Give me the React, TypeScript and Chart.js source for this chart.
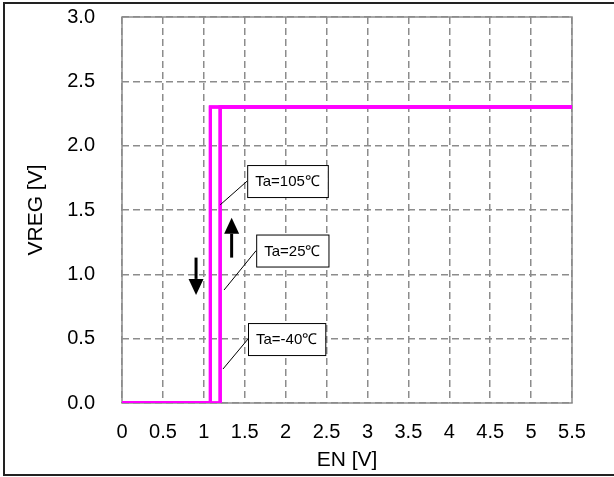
import React, { useEffect, useRef } from "react";
import { Chart, registerables } from "chart.js";

Chart.register(...registerables);

// ---- data ----
const temps = ["Ta=105℃", "Ta=25℃", "Ta=-40℃"];
const enRiseThreshold = [1.2, 1.2, 1.2]; // EN [V] where VREG turns on
const enFallThreshold = [1.08, 1.08, 1.08]; // EN [V] where VREG turns off
const vregOn = [2.3, 2.3, 2.3]; // VREG [V] when on
const vregOff = [0, 0, 0];
const enMin = 0;
const enMax = 5.5;
const xTicks = [0, 0.5, 1, 1.5, 2, 2.5, 3, 3.5, 4, 4.5, 5, 5.5];
const yTicks = [0, 0.5, 1, 1.5, 2, 2.5, 3];

// ---- annotation layout (data coordinates) ----
const labelBoxLeft = [1.53, 1.64, 1.54];
const labelBoxMidY = [1.725, 1.185, 0.497];
const leaderEndX = [1.2, 1.247, 1.234];
const leaderEndY = [1.54, 0.878, 0.264];
const arrowUp = { x: 1.34, from: 1.13, to: 1.44 };
const arrowDown = { x: 0.905, from: 1.13, to: 0.84 };

const FONT = "'Liberation Sans', Arial, Helvetica, sans-serif";
const MAGENTA = "#FF00FF";
const GRID = "#8c8c8c";

export default function App() {
  const ref = useRef<HTMLCanvasElement | null>(null);

  useEffect(() => {
    if (!ref.current) return;

    const datasets: any[] = [];
    temps.forEach((t, i) => {
      datasets.push({
        label: t + " rise",
        data: [
          { x: enMin, y: vregOff[i] },
          { x: enRiseThreshold[i], y: vregOff[i] },
          { x: enRiseThreshold[i], y: vregOn[i] },
          { x: enMax, y: vregOn[i] },
        ],
      });
      datasets.push({
        label: t + " fall",
        data: [
          { x: enMax, y: vregOn[i] },
          { x: enFallThreshold[i], y: vregOn[i] },
          { x: enFallThreshold[i], y: vregOff[i] },
          { x: enMin, y: vregOff[i] },
        ],
      });
    });
    datasets.forEach((d) => {
      d.showLine = true;
      d.borderColor = MAGENTA;
      d.backgroundColor = MAGENTA;
      d.borderWidth = 3;
      d.pointRadius = 0;
      d.tension = 0;
      d.fill = false;
    });

    const framePlugin = {
      id: "frame",
      beforeDraw(chart: any) {
        const ctx = chart.ctx;
        ctx.save();
        ctx.fillStyle = "#fff";
        ctx.fillRect(0, 0, chart.width, chart.height);
        ctx.strokeStyle = "#222";
        ctx.lineWidth = 2;
        ctx.strokeRect(4, 3, chart.width + 10, 472);
        ctx.restore();
      },
      beforeDatasetsDraw(chart: any) {
        const { ctx, chartArea: a } = chart;
        ctx.save();
        ctx.strokeStyle = GRID;
        ctx.lineWidth = 1.5;
        ctx.setLineDash([]);
        ctx.strokeRect(a.left, a.top, a.right - a.left, a.bottom - a.top);
        ctx.restore();
      },
    };

    const annotationPlugin = {
      id: "annot",
      afterDatasetsDraw(chart: any) {
        const { ctx } = chart;
        const xs = chart.scales.x;
        const ys = chart.scales.y;
        ctx.save();
        ctx.font = `15px ${FONT}`;
        ctx.textBaseline = "middle";
        ctx.textAlign = "left";
        temps.forEach((t, i) => {
          const bx = xs.getPixelForValue(labelBoxLeft[i]);
          const by = ys.getPixelForValue(labelBoxMidY[i]);
          const tw = ctx.measureText(t).width;
          const w = tw + 16;
          const h = 32;
          ctx.strokeStyle = "#000";
          ctx.lineWidth = 1;
          ctx.beginPath();
          ctx.moveTo(bx, by);
          ctx.lineTo(xs.getPixelForValue(leaderEndX[i]), ys.getPixelForValue(leaderEndY[i]));
          ctx.stroke();
          ctx.fillStyle = "#fff";
          ctx.fillRect(bx, by - h / 2, w, h);
          ctx.strokeRect(bx + 0.5, by - h / 2 + 0.5, w, h);
          ctx.fillStyle = "#000";
          ctx.fillText(t, bx + 8, by + 1);
        });
        const drawArrow = (a: { x: number; from: number; to: number }) => {
          const x = xs.getPixelForValue(a.x);
          const y0 = ys.getPixelForValue(a.from);
          const y1 = ys.getPixelForValue(a.to);
          const dir = y1 > y0 ? 1 : -1;
          const headH = 16;
          const headW = 7.5;
          ctx.strokeStyle = "#000";
          ctx.fillStyle = "#000";
          ctx.lineWidth = 3;
          ctx.beginPath();
          ctx.moveTo(x, y0);
          ctx.lineTo(x, y1 - dir * headH);
          ctx.stroke();
          ctx.beginPath();
          ctx.moveTo(x, y1);
          ctx.lineTo(x - headW, y1 - dir * headH);
          ctx.lineTo(x + headW, y1 - dir * headH);
          ctx.closePath();
          ctx.fill();
        };
        drawArrow(arrowUp);
        drawArrow(arrowDown);
        ctx.restore();
      },
    };

    const chart = new Chart(ref.current, {
      type: "scatter",
      data: { datasets },
      options: {
        animation: false,
        responsive: false,
        events: [],
        layout: { padding: { left: 0, right: 42, top: 17, bottom: 0 } },
        plugins: {
          legend: { display: false },
          tooltip: { enabled: false },
        },
        scales: {
          x: {
            type: "linear",
            min: enMin,
            max: enMax,
            afterBuildTicks: (s: any) => {
              s.ticks = xTicks.map((v) => ({ value: v }));
            },
            afterFit: (s: any) => {
              s.height = 74;
              s.paddingLeft = 0;
              s.paddingRight = 0;
            },
            ticks: {
              color: "#000",
              font: { family: FONT, size: 20 },
              padding: 17,
              maxRotation: 0,
              autoSkip: false,
              callback: (v: any) => String(Math.round(Number(v) * 10) / 10),
            },
            grid: { color: GRID, lineWidth: 1.5, drawTicks: false },
            border: { display: false, dash: [7, 4] },
            title: {
              display: true,
              text: "EN [V]",
              color: "#000",
              font: { family: FONT, size: 21 },
              padding: { top: 0, bottom: 4 },
            },
          },
          y: {
            type: "linear",
            min: 0,
            max: 3,
            afterBuildTicks: (s: any) => {
              s.ticks = yTicks.map((v) => ({ value: v }));
            },
            afterFit: (s: any) => {
              s.width = 122;
              s.paddingTop = 0;
              s.paddingBottom = 0;
            },
            ticks: {
              color: "#000",
              font: { family: FONT, size: 20 },
              padding: 27,
              autoSkip: false,
              callback: (v: any) => Number(v).toFixed(1),
            },
            grid: { color: GRID, lineWidth: 1.5, drawTicks: false },
            border: { display: false, dash: [7, 4] },
            title: {
              display: true,
              text: "VREG [V]",
              color: "#000",
              font: { family: FONT, size: 21 },
              padding: { top: 24, bottom: 0 },
            },
          },
        },
      } as any,
      plugins: [framePlugin, annotationPlugin],
    });

    return () => chart.destroy();
  }, []);

  return (
    <div style={{ position: "absolute", left: 0, top: 0, width: 614, height: 477, background: "#fff" }}>
      <canvas ref={ref} width={614} height={477} style={{ display: "block", width: 614, height: 477 }} />
    </div>
  );
}
